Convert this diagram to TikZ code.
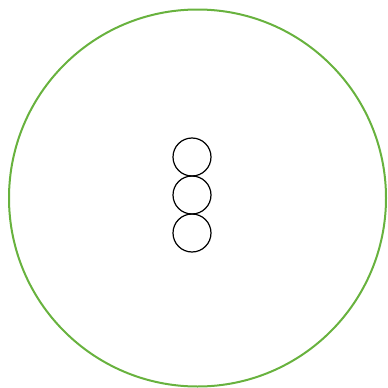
\documentclass[tikz,border=0pt]{standalone}
\definecolor{ringgreen}{RGB}{104,178,62}
\tikzset{
  ring/.style={circle, draw=ringgreen, line width=2pt, minimum size=377pt, inner sep=0pt},
  bead/.style={circle, draw=black, line width=1.2pt, minimum size=38pt, inner sep=0pt}
}
\begin{document}
\begin{tikzpicture}[x=1pt, y=-1pt]
  % Canvas
  \useasboundingbox (0,0) rectangle (388,388);
  % Outer ring
  \node[ring] (outer) at (197.5,198) {};
  % Column of beads
  \node[bead] (top) at (192,157) {};
  \node[bead] (mid) at (192,195) {};
  \node[bead] (low) at (192,233) {};
\end{tikzpicture}
\end{document}
